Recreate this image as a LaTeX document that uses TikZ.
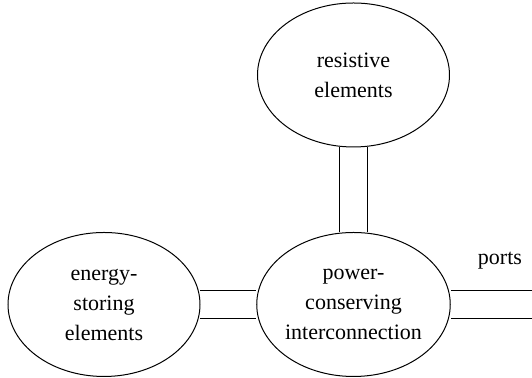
\documentclass[tikz,border=0pt]{standalone}
\usepackage{fontspec}
\setmainfont{Liberation Serif}
\usetikzlibrary{shapes.geometric,backgrounds}

\begin{document}
\begin{tikzpicture}[x=0.5pt,y=0.5pt,font=\fontsize{11}{15}\selectfont,
  part/.style={ellipse,draw,line width=0.5pt,inner sep=0pt,minimum width=96pt,minimum height=72pt,align=center},
  bond/.style={draw,line width=0.5pt,double,double distance=13.2pt}]
\useasboundingbox (0,0) rectangle (532,378);

% ================= the three parts =================
\node[part] (resist) at (353.5,303) {resistive\\elements};
\node[part] (store) at (104,73.5) {energy-\\storing\\elements};
\node[part] (inter) at (353.5,73.5) {power-\\conserving\\interconnection};

% open end towards the outside
\coordinate (outer) at (532,73.5);
\node[anchor=base] (ports) at (500,113) {ports};

% ================= bonds =================
\begin{scope}[on background layer]
  \draw[bond] (resist) -- (inter);
  \draw[bond] (store) -- (inter);
  \draw[bond] (inter) -- (outer);
\end{scope}
\end{tikzpicture}
\end{document}
